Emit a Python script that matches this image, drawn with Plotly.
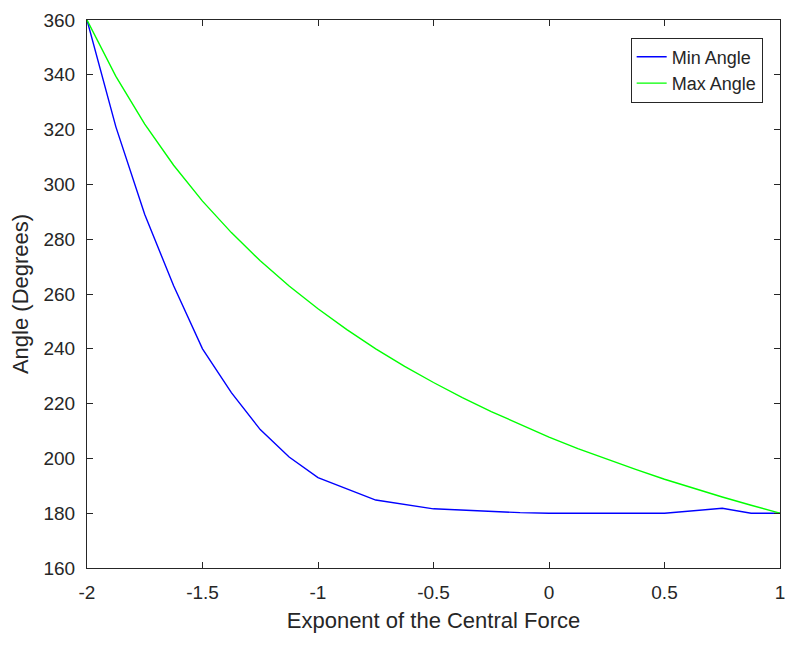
import plotly.graph_objects as go

# Exponent of the central force
x_min = [-2.0, -1.875, -1.75, -1.625, -1.5, -1.375, -1.25, -1.125, -1.0,
         -0.75, -0.5, -0.25, -0.125, 0.0, 0.5, 0.75, 0.875, 1.0]
min_angle = [360, 321, 289, 263, 240, 224, 210.5, 200.5, 193,
             184.8, 181.6, 180.6, 180.2, 180, 180, 181.8, 180, 180]

x_max = [-2.0, -1.875, -1.75, -1.625, -1.5, -1.375, -1.25, -1.125, -1.0,
         -0.875, -0.75, -0.625, -0.5, -0.375, -0.25, -0.125, 0.0,
         0.125, 0.25, 0.375, 0.5, 0.625, 0.75, 0.875, 1.0]
max_angle = [360, 339.4, 322.0, 307.0, 293.9, 282.4, 272.1, 262.9, 254.6,
             247.0, 240.0, 233.6, 227.7, 222.2, 217.1, 212.3, 207.8,
             203.6, 199.7, 196.0, 192.4, 189.1, 185.9, 182.9, 180]

x_ticks = [-2, -1.5, -1, -0.5, 0, 0.5, 1]
x_tick_labels = ["-2", "-1.5", "-1", "-0.5", "0", "0.5", "1"]
y_ticks = [160, 180, 200, 220, 240, 260, 280, 300, 320, 340, 360]
y_tick_labels = [str(v) for v in y_ticks]

TXT = "#262626"
FONT = "Liberation Sans, Arial, Helvetica, sans-serif"

fig = go.Figure()
fig.add_trace(go.Scatter(x=x_min, y=min_angle, mode="lines", name="Min Angle",
                         line=dict(color="#0000FF", width=1.4)))
fig.add_trace(go.Scatter(x=x_max, y=max_angle, mode="lines", name="Max Angle",
                         line=dict(color="#00FF00", width=1.4)))

axis_common = dict(showline=True, linecolor=TXT, linewidth=1, mirror="ticks",
                   ticks="inside", ticklen=6, tickcolor=TXT, tickwidth=1,
                   showgrid=False, zeroline=False, ticklabeloverflow="allow",
                   automargin=False,
                   tickfont=dict(size=19, color=TXT, family=FONT))

fig.update_layout(
    width=785, height=645,
    margin=dict(l=87, r=5, t=20, b=77),
    paper_bgcolor="white", plot_bgcolor="white",
    font=dict(family=FONT, color=TXT),
    xaxis=dict(range=[-2, 1], tickvals=x_ticks, ticktext=x_tick_labels,
               ticklabelstandoff=7,
               title=dict(text="Exponent of the Central Force",
                          font=dict(size=22, color=TXT, family=FONT), standoff=10),
               **axis_common),
    yaxis=dict(range=[160, 360], tickvals=y_ticks, ticktext=y_tick_labels,
               ticklabelstandoff=7,
               title=dict(text="Angle (Degrees)",
                          font=dict(size=22, color=TXT, family=FONT), standoff=8),
               **axis_common),
    legend=dict(x=0.975, y=0.968, xanchor="right", yanchor="top",
                bgcolor="white", bordercolor=TXT, borderwidth=1,
                font=dict(size=18, color=TXT, family=FONT)),
    showlegend=True,
)

fig.write_html("out.html")
